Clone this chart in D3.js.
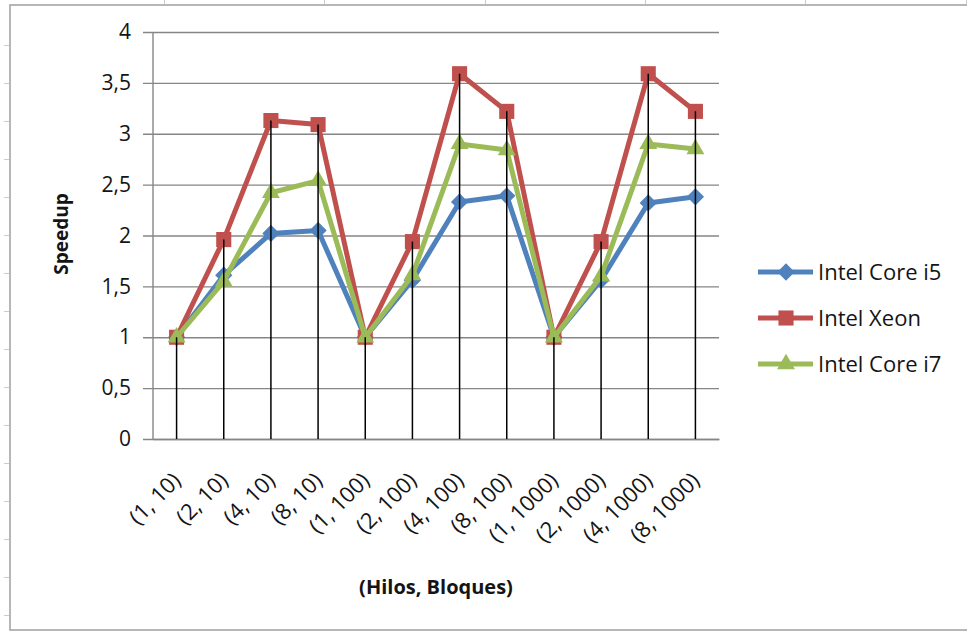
<!DOCTYPE html>
<html>
<head>
<meta charset="utf-8">
<script src="https://cdn.jsdelivr.net/npm/d3@7"></script>
<style>
  html, body { margin: 0; padding: 0; background: #ffffff; }
  svg { display: block; }
  text { font-family: "Open Sans", "Noto Sans", sans-serif; }
</style>
</head>
<body>
<svg id="chart" width="967" height="632"></svg>
<script>
// Speedup per (threads, blocks) configuration
const categories = ["(1, 10)", "(2, 10)", "(4, 10)", "(8, 10)",
                    "(1, 100)", "(2, 100)", "(4, 100)", "(8, 100)",
                    "(1, 1000)", "(2, 1000)", "(4, 1000)", "(8, 1000)"];
const coreI5 = [1, 1.61, 2.02, 2.05, 1, 1.56, 2.33, 2.39, 1, 1.56, 2.32, 2.38];
const xeon   = [1, 1.96, 3.13, 3.09, 1, 1.94, 3.59, 3.22, 1, 1.94, 3.59, 3.22];
const coreI7 = [1, 1.55, 2.42, 2.54, 1, 1.61, 2.90, 2.84, 1, 1.60, 2.90, 2.85];
const seriesNames = ["Intel Core i5", "Intel Xeon", "Intel Core i7"];
const yTicks = [0, 0.5, 1, 1.5, 2, 2.5, 3, 3.5, 4];

const series = [
  { name: seriesNames[0], values: coreI5, color: "#4F81BD", shape: "diamond" },
  { name: seriesNames[1], values: xeon,   color: "#C0504D", shape: "square" },
  { name: seriesNames[2], values: coreI7, color: "#9BBB59", shape: "triangle" }
];

const svg = d3.select("#chart");
const plot = { left: 153, right: 719, top: 32, bottom: 439 };
const ink = "#141414";

const x = d3.scalePoint().domain(categories).range([plot.left, plot.right]).padding(0.5);
const y = d3.scaleLinear().domain([0, 4]).range([plot.bottom, plot.top]);
const fmt = v => String(v).replace(".", ",");

// sheet cell markers around the chart object
const sheet = svg.append("g").attr("stroke", "#c3cddc").attr("stroke-width", 1);
d3.range(1, 17).forEach(k => {
  sheet.append("line").attr("x1", 4).attr("x2", 9).attr("y1", 7.5 + 38 * k).attr("y2", 7.5 + 38 * k);
});
d3.range(0, 6).forEach(k => {
  const cx = Math.round(164 + 160.3 * k) + 0.5;
  sheet.append("line").attr("x1", cx).attr("x2", cx).attr("y1", 0).attr("y2", 4);
});

// chart area border
svg.append("rect")
  .attr("x", 10).attr("y", 5).attr("width", 1000).attr("height", 625)
  .attr("fill", "#ffffff").attr("stroke", "#a5a5a5").attr("stroke-width", 1.6);

// horizontal gridlines with outside tick stubs
const yAxis = d3.axisLeft(y).tickValues(yTicks).tickFormat(fmt)
  .tickSize(-(plot.right - plot.left)).tickSizeOuter(0).tickPadding(22);
const gy = svg.append("g").attr("transform", `translate(${plot.left},0)`).call(yAxis);
gy.select(".domain").remove();
gy.selectAll(".tick line").attr("x1", -10).attr("stroke", "#868686").attr("stroke-width", 1.4);
gy.selectAll(".tick text")
  .attr("font-size", 21).attr("fill", ink)
  .attr("font-family", "'Open Sans', sans-serif");

// vertical value axis line
svg.append("line")
  .attr("x1", plot.left).attr("x2", plot.left)
  .attr("y1", y(4)).attr("y2", y(0))
  .attr("stroke", "#868686").attr("stroke-width", 1.4);

// category axis labels, rotated
const xAxis = d3.axisBottom(x).tickSize(0).tickSizeOuter(0);
const gx = svg.append("g").attr("transform", `translate(0,${plot.bottom})`).call(xAxis);
gx.select(".domain").attr("stroke", "#868686").attr("stroke-width", 1.4);
gx.selectAll(".tick text")
  .attr("font-size", 22).attr("fill", ink)
  .attr("font-family", "'Open Sans', sans-serif")
  .attr("text-anchor", "end")
  .attr("dy", null).attr("y", 0)
  .attr("transform", "translate(5,43) rotate(-45)");

// series lines and markers
const line = d3.line().x((d, i) => x(categories[i])).y(d => y(d));
const symbolFor = {
  diamond: d3.symbol().type(d3.symbolDiamond2).size(190),
  square: d3.symbol().type(d3.symbolSquare2).size(290),
  triangle: d3.symbol().type(d3.symbolTriangle2).size(230)
};

series.forEach(s => {
  const g = svg.append("g");
  g.append("path").datum(s.values)
    .attr("d", line).attr("fill", "none")
    .attr("stroke", s.color).attr("stroke-width", 5)
    .attr("stroke-linejoin", "round");
  g.selectAll("path.mk").data(s.values).join("path")
    .attr("class", "mk")
    .attr("d", symbolFor[s.shape])
    .attr("transform", (d, i) => `translate(${x(categories[i])},${y(d)})`)
    .attr("fill", s.color);
});

// drop lines from the highest point of each category down to the axis
const tops = categories.map((c, i) => d3.max(series, s => s.values[i]));
svg.append("g").selectAll("line").data(tops).join("line")
  .attr("x1", (d, i) => x(categories[i])).attr("x2", (d, i) => x(categories[i]))
  .attr("y1", d => y(d)).attr("y2", y(0))
  .attr("stroke", "#000000").attr("stroke-width", 1.5);

// axis titles
svg.append("text")
  .attr("x", (plot.left + plot.right) / 2).attr("y", 594)
  .attr("text-anchor", "middle").attr("font-size", 20).attr("font-weight", "bold")
  .attr("fill", ink).text("(Hilos, Bloques)");
svg.append("text")
  .attr("transform", "translate(68,234) rotate(-90)")
  .attr("text-anchor", "middle").attr("font-size", 19).attr("font-weight", "bold")
  .attr("fill", ink).text("Speedup");

// legend
const legend = svg.append("g");
series.forEach((s, i) => {
  const ly = 272 + 46 * i;
  const item = legend.append("g").attr("transform", `translate(0,${ly})`);
  item.append("line").attr("x1", 758).attr("x2", 813).attr("y1", 0).attr("y2", 0)
    .attr("stroke", s.color).attr("stroke-width", 5);
  item.append("path").attr("d", symbolFor[s.shape])
    .attr("transform", "translate(786,0)").attr("fill", s.color);
  item.append("text").attr("x", 818).attr("y", 0).attr("dy", "0.35em")
    .attr("font-size", 22).attr("fill", ink).text(s.name);
});
</script>
</body>
</html>
